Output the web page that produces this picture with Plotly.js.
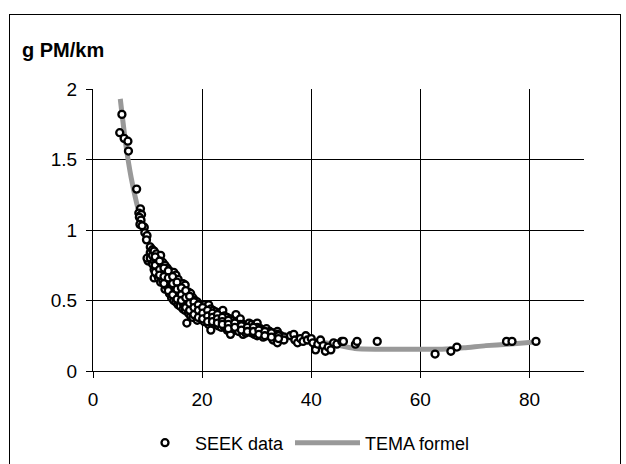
<!DOCTYPE html>
<html>
<head>
<meta charset="utf-8">
<script src="https://cdn.plot.ly/plotly-3.0.1.min.js"></script>
<style>
html,body{margin:0;padding:0;background:#fff;}
#wrap{position:relative;width:626px;height:464px;overflow:hidden;}
#frame{position:absolute;left:9px;top:14px;width:612px;height:470px;border:1px solid #000;box-sizing:border-box;}
#chart{position:absolute;left:0;top:0;width:626px;height:464px;}
</style>
</head>
<body>
<div id="wrap"><div id="frame"></div><div id="chart"></div></div>
<script>
// TEMA formel curve
const temaX = [5, 6, 7, 8, 9, 10, 12, 14, 16, 18, 20, 22, 25, 28, 31, 35, 40, 44, 48, 52, 56, 60, 64, 68, 72, 76, 81];
const temaY = [1.93, 1.61, 1.37, 1.19, 1.05, 0.93, 0.77, 0.66, 0.57, 0.51, 0.46, 0.42, 0.37, 0.33, 0.29, 0.26, 0.22, 0.19, 0.16, 0.155, 0.155, 0.155, 0.155, 0.165, 0.18, 0.19, 0.205];

// SEEK data points
const seekX = [
 4.9,5.3,5.7,6.4,6.5,8.0,8.7,8.4,8.6,8.9,8.5,8.8,8.6,9.4,9.0,9.5,9.9,9.8,10.1,9.9,
 10.5,10.5,10.5, 10.9,10.9,10.9, 11.2,11.2,11.2,11.2, 11.6,11.6,11.6,11.6, 12.0,12.0,12.0,12.0,
 12.4,12.4,12.4,12.4,12.4, 12.8,12.8,12.8,12.8, 13.2,13.2,13.2,13.2,13.2, 13.6,13.6,13.6,13.6,
 14.0,14.0,14.0,14.0,14.0, 14.4,14.4,14.4,14.4,14.4, 14.8,14.8,14.8,14.8,14.8, 15.2,15.2,15.2,15.2,15.2,
 15.6,15.6,15.6,15.6,15.6, 16.0,16.0,16.0,16.0,16.0, 16.5,16.5,16.5,16.5,16.5, 16.9,16.9,16.9,16.9,16.9,
 17.2,17.2,17.2, 17.5,17.5,17.5,17.5,17.5, 17.9,17.9,17.9,17.9,17.9, 18.3,18.3,18.3,18.3,18.3,
 18.7,18.7,18.7,18.7, 19.1,19.1,19.1,19.1,19.1, 19.5,19.5,19.5,19.5, 19.9,19.9,19.9,19.9,
 20.4,20.4,20.4,20.4,20.4, 20.8,20.8,20.8,20.8, 21.2,21.2,21.2,21.2,21.2, 21.6,21.6,21.6,21.6,21.6,
 22.0,22.0,22.0,22.0, 22.5,22.5,22.5,22.5, 23.0,23.0,23.0,23.0, 23.5,23.5,23.5,23.5, 23.8,
 24.1,24.1,24.1, 24.6,24.6,24.6,24.6, 25.2,25.2,25.2,25.2, 25.7,25.7,25.7, 26.2,26.2,26.2,26.2,
 26.7,26.7,26.7, 27.0,27.0, 27.5,27.5,27.5, 28.0,28.0,28.0, 28.6,28.6,28.6, 29.1,29.1,29.1,
 29.6,29.6,29.6, 30.1,30.1,30.1,30.1, 30.7,30.7, 31.2,31.2,31.2, 31.8,31.8,31.8, 32.4,32.4,
 33.0,33.0,33.0, 33.8,33.8,33.8, 34.4,34.4, 35.0,35.0,
 36.2,36.8,37.0,37.5,38.0,38.5,39.0,39.3,40.0,40.3,40.8,41.2,41.7,42.2,42.6,43.1,43.6,44.1,44.7,45.6,45.9,48.1,48.4,52.1,
 62.7,65.6,66.7,75.8,76.8,81.2,
 11.4,11.4,11.4, 12.2,12.2,12.2, 13.0,13.0,13.0, 13.8,13.8,13.8, 14.6,14.6,14.6, 15.4,15.4,15.4,
 16.2,16.2,16.2, 17.0,17.0,17.0, 17.7,17.7,17.7, 18.5,18.5,18.5, 19.3,19.3,19.3, 20.1,20.1,20.1,
 21.0,21.0,21.0, 21.9,21.9,21.9, 22.8,22.8,22.8, 23.7,23.7,23.7, 24.8,24.8,24.8, 26.0,26.0,
 27.2,27.2, 28.3,28.3, 29.4,29.4, 30.4,30.4, 31.5,31.5, 32.7,32.7, 34.0,34.0
];
const seekY = [
 1.69,1.82,1.65,1.63,1.56,1.29,1.15,1.12,1.10,1.11,1.09,1.07,1.04,1.02,1.03,0.98,0.96,0.93,0.78,0.80,
 0.88,0.84,0.80, 0.86,0.82,0.76, 0.85,0.78,0.66,0.72, 0.83,0.79,0.74,0.69, 0.80,0.76,0.71,0.66,
 0.82,0.74,0.70,0.67,0.63, 0.77,0.72,0.68,0.64, 0.75,0.70,0.66,0.61,0.58, 0.73,0.69,0.64,0.60,
 0.71,0.67,0.62,0.58,0.55, 0.69,0.65,0.60,0.56,0.52, 0.70,0.64,0.59,0.54,0.50, 0.68,0.62,0.57,0.53,0.49,
 0.65,0.60,0.55,0.51,0.47, 0.61,0.57,0.53,0.49,0.46, 0.62,0.56,0.52,0.48,0.44, 0.61,0.54,0.50,0.46,0.43,
 0.34,0.52,0.48, 0.56,0.51,0.47,0.44,0.41, 0.55,0.50,0.46,0.42,0.39, 0.52,0.48,0.44,0.41,0.38,
 0.50,0.46,0.43,0.40, 0.49,0.45,0.42,0.39,0.36, 0.47,0.44,0.41,0.38, 0.46,0.43,0.40,0.37,
 0.47,0.44,0.41,0.38,0.35, 0.45,0.42,0.39,0.36, 0.47,0.43,0.40,0.37,0.33, 0.44,0.41,0.38,0.35,0.29,
 0.43,0.40,0.37,0.34, 0.42,0.39,0.36,0.33, 0.41,0.38,0.35,0.32, 0.40,0.37,0.34,0.31, 0.43,
 0.39,0.36,0.31, 0.38,0.35,0.32,0.29, 0.37,0.34,0.31,0.26, 0.36,0.33,0.30, 0.40,0.35,0.32,0.29,
 0.34,0.31,0.28, 0.37,0.33, 0.33,0.30,0.26, 0.32,0.29,0.27, 0.34,0.31,0.28, 0.33,0.30,0.27,
 0.32,0.29,0.26, 0.34,0.31,0.28,0.25, 0.30,0.27, 0.29,0.26,0.24, 0.30,0.27,0.25, 0.28,0.25,
 0.27,0.24,0.22, 0.28,0.26,0.20, 0.25,0.23, 0.24,0.22,
 0.25,0.26,0.22,0.20,0.23,0.21,0.25,0.22,0.23,0.20,0.15,0.19,0.22,0.18,0.14,0.17,0.15,0.20,0.19,0.21,0.21,0.19,0.21,0.21,
 0.12,0.14,0.17,0.21,0.21,0.21,
 0.81,0.75,0.70, 0.78,0.72,0.68, 0.73,0.67,0.62, 0.71,0.66,0.57, 0.67,0.62,0.54, 0.63,0.58,0.51,
 0.59,0.54,0.50, 0.57,0.52,0.45, 0.53,0.48,0.43, 0.49,0.45,0.40, 0.47,0.43,0.38, 0.45,0.41,0.37,
 0.43,0.39,0.35, 0.41,0.38,0.35, 0.40,0.37,0.34, 0.38,0.35,0.33, 0.36,0.33,0.30, 0.34,0.31,
 0.32,0.29, 0.31,0.28, 0.31,0.28, 0.29,0.26, 0.28,0.25, 0.27,0.24, 0.25,0.23
];

const xTicks = [0, 20, 40, 60, 80];
const yTicks = [0, 0.5, 1, 1.5, 2];
const yTickText = ['0', '0.5', '1', '1.5', '2'];

const FONT = 'Liberation Sans, Arial, sans-serif';

const traces = [
  {
    x: temaX, y: temaY, type: 'scatter', mode: 'lines', name: 'TEMA formel', legend: 'legend2',
    line: {color: '#999999', width: 5, shape: 'spline', smoothing: 0.6}
  },
  {
    x: seekX, y: seekY, type: 'scatter', mode: 'markers', name: 'SEEK data', legend: 'legend',
    marker: {symbol: 'circle', size: 7, color: '#ffffff', line: {color: '#000000', width: 2.3}}
  }
];

const layout = {
  width: 626, height: 464,
  paper_bgcolor: 'rgba(0,0,0,0)', plot_bgcolor: 'rgba(0,0,0,0)',
  margin: {l: 93, r: 42, t: 89, b: 93, autoexpand: false},
  font: {family: FONT, size: 19, color: '#000'},
  title: {text: '<b>g PM/km</b>', font: {family: FONT, size: 20, color: '#000'},
          xref: 'container', yref: 'container', x: 22/626, xanchor: 'left', y: 1 - 50/464, yanchor: 'middle'},
  xaxis: {range: [0, 90], tickvals: xTicks, ticktext: xTicks.map(String), showgrid: true, gridcolor: '#000', gridwidth: 1,
          showline: true, linecolor: '#000', linewidth: 1, ticks: 'outside', ticklen: 6, tickcolor: '#000',
          ticklabelstandoff: 5, zeroline: false, tickfont: {size: 19}, fixedrange: true},
  yaxis: {range: [0, 2], tickvals: yTicks, ticktext: yTickText, showgrid: true, gridcolor: '#000', gridwidth: 1,
          showline: true, linecolor: '#000', linewidth: 1, ticks: 'outside', ticklen: 6, tickcolor: '#000',
          ticklabelstandoff: 5, zeroline: false, tickfont: {size: 19}, fixedrange: true},
  showlegend: true,
  legend: {orientation: 'h', x: (135 - 93) / 491, xanchor: 'left', y: (371 - 443) / 282, yanchor: 'middle',
           font: {size: 18}, bgcolor: 'rgba(0,0,0,0)', itemwidth: 50},
  legend2: {orientation: 'h', x: (290 - 93) / 491, xanchor: 'left', y: (371 - 443) / 282, yanchor: 'middle',
           font: {size: 18}, bgcolor: 'rgba(0,0,0,0)', itemwidth: 65}
};

Plotly.newPlot('chart', traces, layout, {staticPlot: true, displayModeBar: false});
</script>
</body>
</html>
